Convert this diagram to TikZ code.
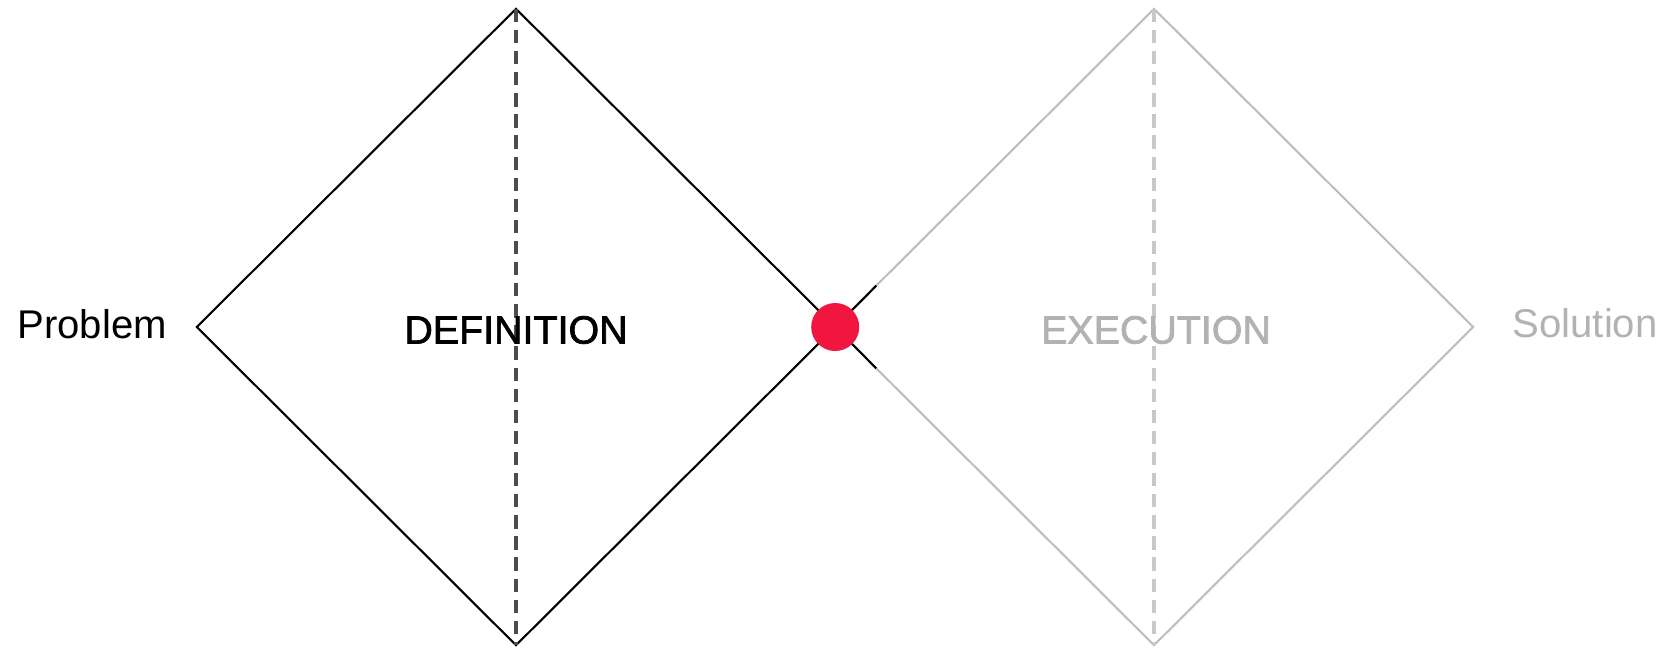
\documentclass[tikz,border=0pt]{standalone}
\usepackage{fontspec}
\setmainfont{Liberation Sans}
\newfontfamily\medfont{Liberation Sans}[FakeBold=1.8]
\usetikzlibrary{shapes.geometric,positioning,calc}

\definecolor{dotred}{RGB}{240,22,64}
\definecolor{fadegray}{RGB}{190,190,190}
\definecolor{fadetext}{RGB}{178,178,178}

\begin{document}
\begin{tikzpicture}[x=0.01cm, y=-0.01cm, font=\fontsize{11.4}{13}\selectfont,
    phase/.style={diamond, draw, line width=0.6pt, minimum width=6.38cm, minimum height=6.36cm, inner sep=0pt, outer sep=0pt},
    axis/.style={dashed, dash pattern=on 3.8pt off 2.2pt, line width=0.9pt},
    title/.style={font=\fontsize{11.2}{13}\selectfont\medfont}]

    % --- 边框 ---
    \useasboundingbox (0,0) rectangle (1676,648);

    % --- 两个菱形 ---
    \node[phase, black] (def) at (516,327) {};
    \node[phase, fadegray] (exe) at (1154,327) {};

    % --- 中轴虚线 ---
    \draw[axis, black!70] (def.north) -- (def.south);
    \draw[axis, fadegray!85] (exe.north) -- (exe.south);

    % --- 文字 ---
    \node[title] (deftxt) at (516,330) {DEFINITION};
    \node[title, text=fadetext] (exetxt) at (1156,330) {EXECUTION};
    \node[left=5pt of def.west, yshift=0.9pt] (prob) {Problem};
    \node[right=6.7pt of exe.east, text=fadetext, yshift=1.1pt, xshift=1pt] (sol) {Solution};

    % --- 交汇处的黑色短线 ---
    \coordinate (up)  at ($(exe.west)!0.13!(exe.north)$);
    \coordinate (low) at ($(exe.west)!0.13!(exe.south)$);
    \draw[line width=0.6pt] (def.east) -- (up);
    \draw[line width=0.6pt] (def.east) -- (low);

    % --- 红点 ---
    \node[circle, fill=dotred, minimum size=0.48cm, inner sep=0pt] (dot) at (def.east) {};

\end{tikzpicture}
\end{document}
